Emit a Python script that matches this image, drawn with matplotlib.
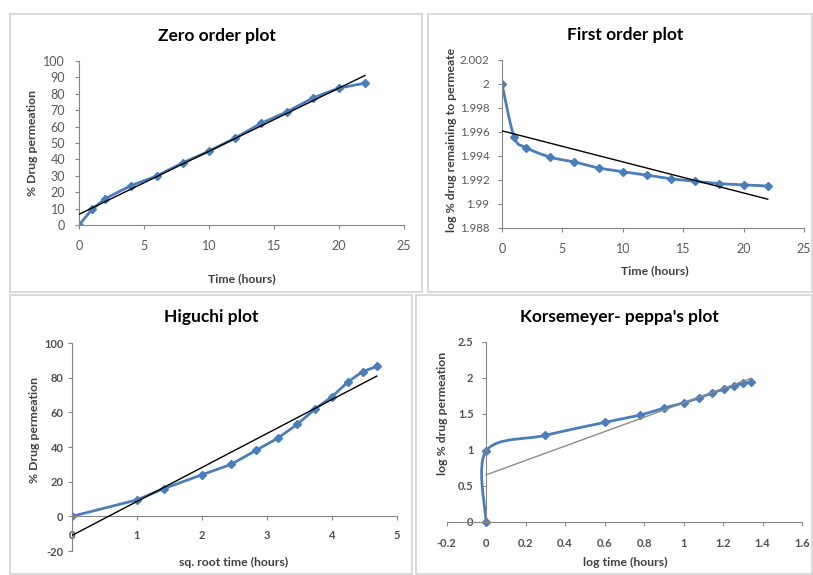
import numpy as np
import matplotlib
matplotlib.use("Agg")
import matplotlib.pyplot as plt
from matplotlib.patches import Rectangle
from matplotlib.ticker import FuncFormatter

plt.rcParams['font.family'] = ['Lato', 'DejaVu Sans']

# ---- data ----
time_h = [0, 1, 2, 4, 6, 8, 10, 12, 14, 16, 18, 20, 22]
drug_perm = [0, 9.5, 16, 24, 30, 38, 45, 53, 62, 69, 77.5, 83.5, 86.5]
log_remain = [2.0, 1.9956, 1.9947, 1.9939, 1.9935, 1.9930, 1.9927,
              1.9924, 1.9921, 1.9919, 1.9917, 1.9916, 1.9915]
sqrt_time = [0, 1, 1.414, 2, 2.449, 2.828, 3.162, 3.464, 3.742, 4.0,
             4.243, 4.472, 4.690]
log_time = [0, 0, 0.301, 0.602, 0.778, 0.903, 1.0, 1.079, 1.146, 1.204,
            1.255, 1.301, 1.342]
log_perm = [0, 0.98, 1.2, 1.38, 1.48, 1.58, 1.65, 1.72, 1.79, 1.84,
            1.89, 1.92, 1.94]

# trendline (intercept, slope) as drawn in the picture
zero_fit = (6.5, 3.85)
first_fit = (1.9961, -0.000259)
higuchi_fit = (-11.0, 19.6)
korsmeyer_fit = (0.65, 1.0)

W, H = 813, 575
BLUE = '#4A7EBB'
AXIS = '#868686'
TXT = '#595959'


def px_axes(fig, x0, x1, y_bottom, y_top):
    return fig.add_axes([x0 / W, 1 - y_bottom / H, (x1 - x0) / W,
                         (y_bottom - y_top) / H])


def ftext(fig, x, y, s, **kw):
    fig.text(x / W, 1 - y / H, s, ha='center', va='center', **kw)


def smooth(x, y, n=24):
    # Catmull-Rom, like Excel's smoothed line
    pts = np.column_stack([x, y]).astype(float)
    P = np.vstack([pts[0], pts, pts[-1]])
    t = np.linspace(0, 1, n)[:, None]
    segs = []
    for i in range(1, len(P) - 2):
        p0, p1, p2, p3 = P[i - 1], P[i], P[i + 1], P[i + 2]
        seg = 0.5 * (2 * p1 + (-p0 + p2) * t
                     + (2 * p0 - 5 * p1 + 4 * p2 - p3) * t ** 2
                     + (-p0 + 3 * p1 - 3 * p2 + p3) * t ** 3)
        segs.append(seg)
    s = np.vstack(segs)
    return s[:, 0], s[:, 1]


def style(ax, tick_size=9, bold=False, xpad=9, ypad=7, color=TXT):
    for side in ['top', 'right']:
        ax.spines[side].set_visible(False)
    for side in ['left', 'bottom']:
        ax.spines[side].set_color(AXIS)
        ax.spines[side].set_linewidth(0.8)
    ax.tick_params(direction='out', length=3, width=0.8, color=AXIS,
                   labelsize=tick_size, labelcolor=color)
    ax.tick_params(axis='x', pad=xpad)
    ax.tick_params(axis='y', pad=ypad)
    ax.patch.set_alpha(0)
    ax.yaxis.set_major_formatter(FuncFormatter(lambda v, p: '%g' % round(v, 6)))
    ax.xaxis.set_major_formatter(FuncFormatter(lambda v, p: '%g' % round(v, 6)))
    if bold:
        for lab in ax.get_xticklabels() + ax.get_yticklabels():
            lab.set_fontweight('bold')


def trend(ax, fit, x0, x1, color='black', lw=1.0):
    xs = np.array([x0, x1])
    ax.plot(xs, fit[0] + fit[1] * xs, color=color, lw=lw, zorder=3)


fig = plt.figure(figsize=(W / 100, H / 100), dpi=100)
fig.patch.set_facecolor('white')

# panel frames
for (x0, y0, x1, y1) in [(10, 14, 422, 292), (428, 14, 812, 292),
                         (10, 295, 412, 574), (416, 295, 812, 574)]:
    fig.patches.append(Rectangle((x0 / W, 1 - y1 / H), (x1 - x0) / W,
                                 (y1 - y0) / H, transform=fig.transFigure,
                                 fill=False, edgecolor='#d4d4d4', lw=1.2))

title_kw = dict(fontsize=12.5, fontweight='bold', color='black')
lab_kw = dict(fontsize=8.8, fontweight='bold', color='#404040')

# ---- Zero order ----
ax1 = px_axes(fig, 79, 404, 225, 61)
ax1.plot(time_h, drug_perm, color=BLUE, lw=2.0, marker='D', ms=4.5,
         zorder=2)
trend(ax1, zero_fit, 0, 22)
ax1.set_xlim(0, 25)
ax1.set_ylim(0, 100)
ax1.set_xticks(np.arange(0, 26, 5))
ax1.set_yticks(np.arange(0, 101, 10))
style(ax1, tick_size=9, xpad=8, ypad=7)
ftext(fig, 217, 36, 'Zero order plot', **title_kw)
ftext(fig, 242, 279, 'Time (hours)', **lab_kw)
ftext(fig, 33, 143, '% Drug permeation', rotation=90, **lab_kw)

# ---- First order ----
ax2 = px_axes(fig, 502, 804, 228, 60)
sx, sy = smooth(time_h, log_remain)
ax2.plot(sx, sy, color=BLUE, lw=2.0, zorder=2)
ax2.plot(time_h, log_remain, ls='none', color=BLUE, marker='D', ms=4.5,
         zorder=2)
trend(ax2, first_fit, 0, 22)
ax2.set_xlim(0, 25)
ax2.set_ylim(1.988, 2.002)
ax2.set_xticks(np.arange(0, 26, 5))
ax2.set_yticks(np.arange(1.988, 2.0021, 0.002))
style(ax2, tick_size=8.3, xpad=8, ypad=6)
ax2.tick_params(axis='x', labelsize=9)
ftext(fig, 625, 35, 'First order plot', **title_kw)
ftext(fig, 655, 271, 'Time (hours)', **lab_kw)
ftext(fig, 451, 140, 'log % drug remaining to permeate', rotation=90,
      **lab_kw)

# ---- Higuchi ----
ax3 = px_axes(fig, 72, 397, 551, 343)
ax3.plot(sqrt_time, drug_perm, color=BLUE, lw=2.0, marker='D', ms=4.5,
         zorder=2)
trend(ax3, higuchi_fit, 0, sqrt_time[-1])
ax3.set_xlim(0, 5)
ax3.set_ylim(-20, 100)
ax3.set_xticks(np.arange(0, 6, 1))
ax3.set_yticks(np.arange(-20, 101, 20))
ax3.spines['bottom'].set_position(('data', 0))
style(ax3, tick_size=8, bold=True, xpad=7, ypad=3, color='#505050')
ftext(fig, 211, 317, 'Higuchi plot', **title_kw)
ftext(fig, 234, 562, 'sq. root time (hours)', **lab_kw)
ftext(fig, 35, 430, '% Drug permeation', rotation=90, **lab_kw)

# ---- Korsmeyer-Peppas ----
ax4 = px_axes(fig, 446.5, 802, 521.7, 341.7)
kx, ky = smooth(log_time, log_perm)
ax4.plot(kx, ky, color=BLUE, lw=2.0, zorder=2, clip_on=False)
ax4.plot(log_time, log_perm, ls='none', color=BLUE, marker='D', ms=4.5,
         zorder=2, clip_on=False)
trend(ax4, korsmeyer_fit, 0, log_time[-1], color='#8c8c8c', lw=1.0)
ax4.set_xlim(-0.2, 1.6)
ax4.set_ylim(0, 2.5)
ax4.set_xticks(np.arange(-0.2, 1.61, 0.2))
ax4.set_yticks(np.arange(0, 2.51, 0.5))
ax4.spines['left'].set_position(('data', 0))
style(ax4, tick_size=8, bold=True, xpad=9, ypad=6, color='#505050')
ftext(fig, 619, 317, "Korsemeyer- peppa's plot", **title_kw)
ftext(fig, 625, 562, 'log time (hours)', **lab_kw)
ftext(fig, 442, 413, 'log % drug permeation', rotation=90, **lab_kw)

fig.savefig('out.png', dpi=100, facecolor='white')
